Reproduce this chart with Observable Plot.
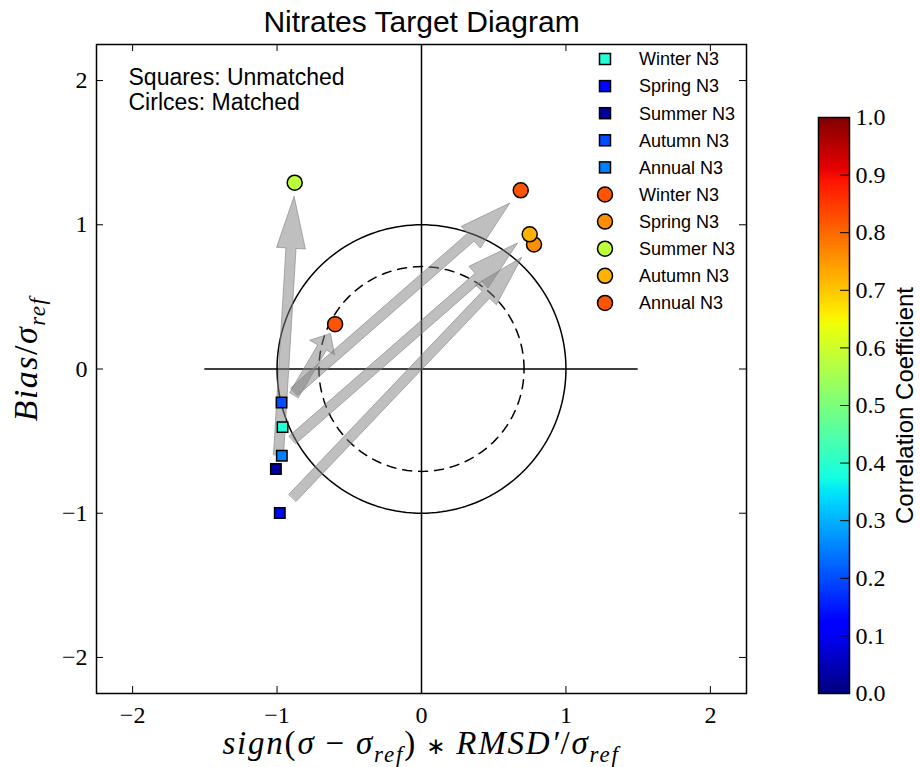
<!DOCTYPE html>
<html><head><meta charset="utf-8">
<script src="https://cdn.jsdelivr.net/npm/d3@7"></script>
<script src="https://cdn.jsdelivr.net/npm/@observablehq/plot@0.6"></script>
<style>
body{margin:0;background:#fff;}
#chart{position:relative;width:920px;height:767px;}
#chart svg{position:absolute;left:0;top:0;}
</style></head><body><div id="chart"></div>
<script>
// ---- data ----
const seasons = ["Winter N3", "Spring N3", "Summer N3", "Autumn N3", "Annual N3"];
const unmatchedX = [-0.962, -0.981, -1.008, -0.969, -0.967];
const unmatchedY = [-0.403, -0.999, -0.694, -0.233, -0.602];
const unmatchedCorr = [0.39, 0.13, 0.03, 0.20, 0.25];
const matchedX = [0.687, 0.779, -0.878, 0.749, -0.598];
const matchedY = [1.239, 0.863, 1.292, 0.934, 0.311];
const matchedCorr = [0.82, 0.76, 0.58, 0.72, 0.82];
// arrows (tail -> tip)
const arrowX0 = [-0.990, -0.882, -0.882, -0.893, -0.893];
const arrowY0 = [-0.595, -0.180, -0.157, -0.491, -0.893];
const arrowX1 = [-0.882, -0.630, 0.612, 0.665, 0.694];
const arrowY1 = [1.197, 0.247, 1.151, 0.874, 0.775];
const axisTicks = [-2, -1, 0, 1, 2];
const cbTicks = [0, 0.1, 0.2, 0.3, 0.4, 0.5, 0.6, 0.7, 0.8, 0.9, 1.0];
const refRadii = [1, 0.71];
const zeroLineSpan = [-1.5, 1.5];
const xDomain = [-2.25, 2.25], yDomain = [-2.25, 2.25];

// ---- jet colormap ----
function piece(t, pts) {
  for (let i = 1; i < pts.length; i++) {
    if (t <= pts[i][0]) {
      const [a, va] = pts[i - 1], [b, vb] = pts[i];
      return va + (vb - va) * (t - a) / (b - a);
    }
  }
  return pts[pts.length - 1][1];
}
function jet(t) {
  t = Math.max(0, Math.min(1, t));
  const r = piece(t, [[0,0],[0.35,0],[0.66,1],[0.89,1],[1,0.5]]);
  const g = piece(t, [[0,0],[0.125,0],[0.375,1],[0.64,1],[0.91,0],[1,0]]);
  const b = piece(t, [[0,0.5],[0.11,1],[0.34,1],[0.65,0],[1,0]]);
  return d3.rgb(r * 255, g * 255, b * 255).formatHex();
}

const unmatched = seasons.map((s, i) => ({name: s, x: unmatchedX[i], y: unmatchedY[i], corr: unmatchedCorr[i]}));
const matched = seasons.map((s, i) => ({name: s, x: matchedX[i], y: matchedY[i], corr: matchedCorr[i]}));

const circlePts = (rad) => d3.range(0, 361, 2).map(a => ({x: rad * Math.cos(a * Math.PI / 180), y: rad * Math.sin(a * Math.PI / 180)}));

const arrowPolys = arrowX0.flatMap((x0, i) => {
  const y0 = arrowY0[i], x1 = arrowX1[i], y1 = arrowY1[i];
  const dx = x1 - x0, dy = y1 - y0, L = Math.hypot(dx, dy);
  const ux = dx / L, uy = dy / L, nx = -uy, ny = ux;
  const hl = Math.min(0.36, 0.23 * L), hw = 0.1, sw = 0.035;
  const bx = x1 - ux * hl, by = y1 - uy * hl;
  return [[x0 + nx*sw, y0 + ny*sw], [bx + nx*sw, by + ny*sw], [bx + nx*hw, by + ny*hw], [x1, y1],
          [bx - nx*hw, by - ny*hw], [bx - nx*sw, by - ny*sw], [x0 - nx*sw, y0 - ny*sw]]
    .map(([x, y]) => ({id: i, x, y}));
});

const tickLen = 7 / 144.4;
const serif = "Liberation Serif";
const sans = "Liberation Sans";
const intFmt = d3.format("d");

const main = Plot.plot({
  width: 920, height: 767,
  marginLeft: 96, marginRight: 174, marginTop: 44, marginBottom: 74,
  x: {domain: xDomain},
  y: {domain: yDomain},
  color: {type: "linear", domain: [0, 1], interpolate: jet},
  style: {background: "transparent", fontFamily: sans, color: "black"},
  marks: [
    Plot.line(circlePts(refRadii[0]), {x: "x", y: "y", stroke: "black", strokeWidth: 1.5}),
    Plot.line(circlePts(refRadii[1]), {x: "x", y: "y", stroke: "black", strokeWidth: 1.5, strokeDasharray: "9,7"}),
    Plot.ruleY([0], {x1: () => zeroLineSpan[0], x2: () => zeroLineSpan[1], stroke: "black", strokeWidth: 1.5}),
    Plot.ruleX([0], {stroke: "black", strokeWidth: 1.5}),
    Plot.line(arrowPolys, {x: "x", y: "y", z: "id", curve: "linear-closed", fill: "#808080", fillOpacity: 0.5,
      stroke: "#808080", strokeOpacity: 0.6, strokeWidth: 1, strokeLinejoin: "miter"}),
    // inward ticks on all four sides
    Plot.ruleX(axisTicks, {x: d => d, y1: () => yDomain[0], y2: () => yDomain[0] + tickLen, stroke: "black", strokeWidth: 1}),
    Plot.ruleX(axisTicks, {x: d => d, y1: () => yDomain[1] - tickLen, y2: () => yDomain[1], stroke: "black", strokeWidth: 1}),
    Plot.ruleY(axisTicks, {y: d => d, x1: () => xDomain[0], x2: () => xDomain[0] + tickLen, stroke: "black", strokeWidth: 1}),
    Plot.ruleY(axisTicks, {y: d => d, x1: () => xDomain[1] - tickLen, x2: () => xDomain[1], stroke: "black", strokeWidth: 1}),
    Plot.axisX({ticks: axisTicks, tickFormat: intFmt, tickSize: 0, tickPadding: 12, fontSize: 24, fontFamily: serif, label: null}),
    Plot.axisY({ticks: axisTicks, tickFormat: intFmt, tickSize: 0, tickPadding: 9, fontSize: 24, fontFamily: serif, label: null}),
    Plot.dot(unmatched, {x: "x", y: "y", symbol: "square", r: 5.9, fill: "corr", stroke: "black", strokeWidth: 1.5}),
    Plot.dot(matched, {x: "x", y: "y", symbol: "circle", r: 7.5, fill: "corr", stroke: "black", strokeWidth: 1.5}),
    Plot.frame({stroke: "black", strokeWidth: 1.5}),
    Plot.text(["Nitrates Target Diagram"], {frameAnchor: "top", dy: -22, fontSize: 30, fontFamily: sans, lineAnchor: "middle", textAnchor: "middle"}),
    Plot.text(["Squares: Unmatched\nCirlces: Matched"], {frameAnchor: "top-left", dx: 32, dy: 23, textAnchor: "start",
      lineAnchor: "top", fontSize: 23, lineHeight: 1.09, fontFamily: sans})
  ]
});

const color = main.scale("color");
const svg = d3.select(main);

// legend inside the axes (upper right)
const legend = svg.append("g");
const legendRows = [...unmatched.map(d => ({...d, shape: "square"})), ...matched.map(d => ({...d, shape: "circle"}))];
legendRows.forEach((d, i) => {
  const cy = 59 + i * 27.1;
  const fill = color.apply(d.corr);
  if (d.shape === "square") {
    legend.append("rect").attr("x", 605 - 5.5).attr("y", cy - 5.5).attr("width", 11).attr("height", 11)
      .attr("fill", fill).attr("stroke", "black").attr("stroke-width", 1.5);
  } else {
    legend.append("circle").attr("cx", 605).attr("cy", cy).attr("r", 7.5)
      .attr("fill", fill).attr("stroke", "black").attr("stroke-width", 1.5);
  }
  legend.append("text").attr("x", 639).attr("y", cy).attr("dy", "0.35em").attr("text-anchor", "start")
    .attr("font-family", sans).attr("font-size", 18).attr("fill", "black").text(d.name);
});

// axis labels (math-style with subscripts)
function mathLabel(g, parts) {
  parts.forEach(p => {
    const t = g.append("tspan").text(p.t);
    if (p.sub) t.attr("dy", 8).attr("font-size", 23);
    if (p.after) t.attr("dy", -8);
    if (p.up) t.attr("font-style", "normal");
    if (p.op) t.attr("font-family", "DejaVu Sans").attr("font-size", 23).attr("font-style", "normal");
  });
}
const xl = svg.append("text").attr("x", 421).attr("y", 754).attr("text-anchor", "middle")
  .attr("font-family", serif).attr("font-style", "italic").attr("font-size", 33).attr("letter-spacing", 1.8)
  .attr("fill", "black");
mathLabel(xl, [
  {t: "sign"}, {t: "(", up: true}, {t: "σ "}, {t: "− ", up: true}, {t: "σ"}, {t: "ref", sub: true},
  {t: ")", up: true, after: true}, {t: " ∗ ", op: true}, {t: "RMSD′"}, {t: "/", up: true}, {t: "σ"}, {t: "ref", sub: true}
]);
const yl = svg.append("text").attr("transform", "translate(37,359) rotate(-90)").attr("text-anchor", "middle")
  .attr("font-family", serif).attr("font-style", "italic").attr("font-size", 34).attr("letter-spacing", 1.5)
  .attr("fill", "black");
mathLabel(yl, [{t: "Bias"}, {t: "/", up: true}, {t: "σ"}, {t: "ref", sub: true}]);

// colorbar
const cbN = 256;
const cbar = Plot.plot({
  width: 920, height: 767,
  marginLeft: 818, marginRight: 71, marginTop: 117, marginBottom: 74,
  x: {domain: [0, 1], axis: null},
  y: {domain: [0, 1]},
  color: {type: "linear", domain: [0, 1], interpolate: jet},
  style: {background: "transparent", color: "black"},
  marks: [
    Plot.rect(d3.range(cbN), {x1: () => 0, x2: () => 1, y1: i => i / cbN, y2: i => (i + 1) / cbN,
      fill: i => (i + 0.5) / cbN, shapeRendering: "crispEdges"}),
    Plot.ruleY(cbTicks.slice(1, -1), {y: d => d, x1: () => 0.71, x2: () => 1, stroke: "black", strokeWidth: 1}),
    Plot.frame({stroke: "black", strokeWidth: 1.5}),
    Plot.axisY({anchor: "right", ticks: cbTicks, tickFormat: d3.format(".1f"), tickSize: 0, tickPadding: 6,
      fontSize: 24, fontFamily: serif, label: null}),
    Plot.text(["Correlation Coefficient"], {frameAnchor: "right", dx: 56, rotate: -90, textAnchor: "middle",
      lineAnchor: "middle", fontSize: 24, fontFamily: sans})
  ]
});

const root = document.getElementById("chart");
root.appendChild(main);
root.appendChild(cbar);
</script></body></html>
